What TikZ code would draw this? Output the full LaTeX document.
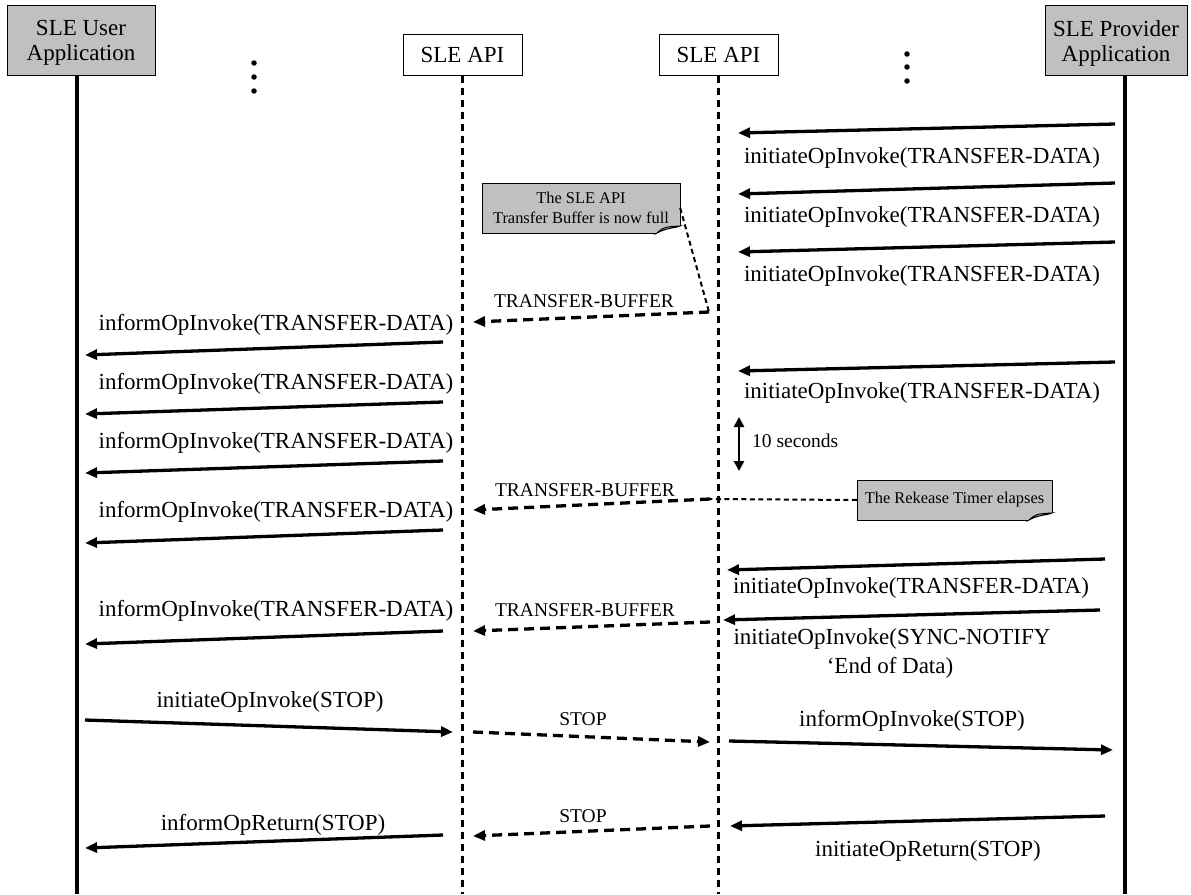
\documentclass[tikz,border=0pt]{standalone}
\usepackage{fontspec}
\setmainfont{Liberation Serif}
\usetikzlibrary{arrows.meta}
\definecolor{notegray}{RGB}{192,192,192}
\definecolor{foldgray}{RGB}{225,225,225}
\begin{document}
\begin{tikzpicture}[x=1pt,y=-1pt,
  big/.style={font=\fontsize{23}{25}\selectfont, inner sep=0pt},
  mid/.style={font=\fontsize{19.5}{21}\selectfont, inner sep=0pt},
  small/.style={font=\fontsize{16.4}{19.5}\selectfont, inner sep=0pt, align=center},
  hdr/.style={draw, line width=1pt, inner sep=0pt, align=center, font=\fontsize{23}{25}\selectfont},
  hdrtext/.style={inner sep=0pt, align=center, font=\fontsize{23}{25}\selectfont},
  life/.style={line width=3.5pt},
  apilife/.style={line width=3pt, dash pattern=on 7pt off 5pt},
  msg/.style={line width=3.3pt, -{Triangle[length=12pt,width=10pt]}},
  dmsg/.style={line width=3.3pt, dash pattern=on 10pt off 6pt, -{Triangle[length=12pt,width=10pt]}},
  notelink/.style={line width=2pt, dash pattern=on 5pt off 3.5pt},
  dot/.style={circle, fill=black, inner sep=0pt, minimum size=5.5pt}
]
\useasboundingbox (0,0) rectangle (1191,894);

% header boxes
\node[hdr, fill=notegray, minimum width=148pt, minimum height=70pt] (user) at (81,40) {};
\node[hdrtext, yshift=-3pt] (usert) at (user.center) {SLE User\\Application};
\node[hdr, fill=white, minimum width=119pt, minimum height=41pt] (api1) at (462.5,54.5) {SLE API};
\node[hdr, fill=white, minimum width=119pt, minimum height=41pt] (api2) at (718.5,54.5) {SLE API};
\node[hdr, fill=notegray, minimum width=142pt, minimum height=70pt] (prov) at (1116,40) {};
\node[hdrtext, yshift=-3pt] (provt) at (prov.center) {SLE Provider\\Application};

% lifelines
\coordinate (userend) at (77,894);
\coordinate (api1end) at (462,894);
\coordinate (api2end) at (718,894);
\coordinate (provend) at (1125,894);
\draw[life] (userend |- user.south) -- (userend);
\draw[apilife] (api1end |- api1.south) -- (api1end);
\draw[apilife] (api2end |- api2.south) -- (api2end);
\draw[life] (provend |- prov.south) -- (provend);

% dots
\node[dot] (dl1) at (254,63) {};
\node[dot] (dl2) at (254,77) {};
\node[dot] (dl3) at (254,91) {};
\node[dot] (dr1) at (907,54) {};
\node[dot] (dr2) at (907,67) {};
\node[dot] (dr3) at (907,81) {};

% provider -> API2 messages
\coordinate (p1a) at (1115,124); \coordinate (p1b) at (738,133);
\coordinate (p2a) at (1115,183); \coordinate (p2b) at (738,194);
\coordinate (p3a) at (1115,242); \coordinate (p3b) at (738,252);
\coordinate (p4a) at (1115,362); \coordinate (p4b) at (738,371);
\coordinate (p5a) at (1105,559); \coordinate (p5b) at (727,570);
\coordinate (p6a) at (1100,610); \coordinate (p6b) at (723,620);
\coordinate (p7a) at (1105,816); \coordinate (p7b) at (730,826);
\foreach \i in {1,...,7} {\draw[msg] (p\i a) -- (p\i b);}
\node[big] (lp1) at (922,158) {initiateOpInvoke(TRANSFER-DATA)};
\node[big] (lp2) at (922,217) {initiateOpInvoke(TRANSFER-DATA)};
\node[big] (lp3) at (922,276) {initiateOpInvoke(TRANSFER-DATA)};
\node[big] (lp4) at (922,393) {initiateOpInvoke(TRANSFER-DATA)};
\node[big] (lp5) at (911,588) {initiateOpInvoke(TRANSFER-DATA)};
\node[big] (lp6) at (892,639) {initiateOpInvoke(SYNC-NOTIFY};
\node[big] (lp6b) at (890,668) {‘End of Data)};
\node[big] (lp7) at (928,851) {initiateOpReturn(STOP)};

% API1 -> user messages
\coordinate (u1a) at (443,342); \coordinate (u1b) at (85,355);
\coordinate (u2a) at (443,402); \coordinate (u2b) at (85,414);
\coordinate (u3a) at (443,461); \coordinate (u3b) at (85,473);
\coordinate (u4a) at (443,530); \coordinate (u4b) at (85,543);
\coordinate (u5a) at (443,631); \coordinate (u5b) at (85,644);
\coordinate (u6a) at (443,835); \coordinate (u6b) at (85,848);
\foreach \i in {1,...,6} {\draw[msg] (u\i a) -- (u\i b);}
\node[big] (lu1) at (276,325) {informOpInvoke(TRANSFER-DATA)};
\node[big] (lu2) at (276,384) {informOpInvoke(TRANSFER-DATA)};
\node[big] (lu3) at (276,443) {informOpInvoke(TRANSFER-DATA)};
\node[big] (lu4) at (276,512) {informOpInvoke(TRANSFER-DATA)};
\node[big] (lu5) at (276,611) {informOpInvoke(TRANSFER-DATA)};
\node[big] (lu6) at (273,825) {informOpReturn(STOP)};

% user -> API1 STOP
\coordinate (s1a) at (85,720); \coordinate (s1b) at (453,732);
\draw[msg] (s1a) -- (s1b);
\node[big] (ls1) at (270,702) {initiateOpInvoke(STOP)};

% API2 -> provider STOP
\coordinate (s2a) at (729,741); \coordinate (s2b) at (1113,750);
\draw[msg] (s2a) -- (s2b);
\node[big] (ls2) at (912,721) {informOpInvoke(STOP)};

% API2 <-> API1 dashed
\coordinate (d1a) at (709,312); \coordinate (d1b) at (473,322);
\coordinate (d2a) at (710,499); \coordinate (d2b) at (473,510);
\coordinate (d3a) at (710,622); \coordinate (d3b) at (473,631);
\coordinate (d4a) at (473,732); \coordinate (d4b) at (710,742);
\coordinate (d5a) at (710,826); \coordinate (d5b) at (473,836);
\foreach \i in {1,...,5} {\draw[dmsg] (d\i a) -- (d\i b);}
\node[mid] (ld1) at (584,301) {TRANSFER-BUFFER};
\node[mid] (ld2) at (585,490) {TRANSFER-BUFFER};
\node[mid] (ld3) at (585,610) {TRANSFER-BUFFER};
\node[mid] (ld4) at (583,719) {STOP};
\node[mid] (ld5) at (583,816) {STOP};

% 10 seconds
\coordinate (t1) at (739,417); \coordinate (t2) at (739,471);
\draw[line width=2.5pt, {Triangle[length=10pt,width=10pt]}-{Triangle[length=10pt,width=10pt]}] (t1) -- (t2);
\node[mid, anchor=west] (lt) at (752,441) {10 seconds};

% note 1
\fill[notegray] (482,183) -- (680,183) -- (680,226) -- (657,233) -- (482,233) -- cycle;
\draw[line width=1pt] (657,233) -- (482,233) -- (482,183) -- (680,183) -- (680,226);
\filldraw[fill=foldgray, line width=1pt] (657,233) .. controls (664,227) .. (680,226) .. controls (672,229) and (668,227) .. cycle;
\node[small, minimum width=198pt, minimum height=50pt] (n1) at (581,208) {The SLE API\\Transfer Buffer is now full};
\draw[notelink] (n1.east) -- (d1a);

% note 2
\fill[notegray] (857,480) -- (1052,480) -- (1052,513) -- (1029,520) -- (857,520) -- cycle;
\draw[line width=1pt] (1029,520) -- (857,520) -- (857,480) -- (1052,480) -- (1052,513);
\filldraw[fill=foldgray, line width=1pt] (1029,520) .. controls (1036,514) .. (1052,513) .. controls (1044,516) and (1040,514) .. cycle;
\node[small, minimum width=195pt, minimum height=40pt] (n2) at (954.5,500) {The Rekease Timer elapses};
\draw[notelink] (n2.west) -- (d2a);
\end{tikzpicture}
\end{document}
